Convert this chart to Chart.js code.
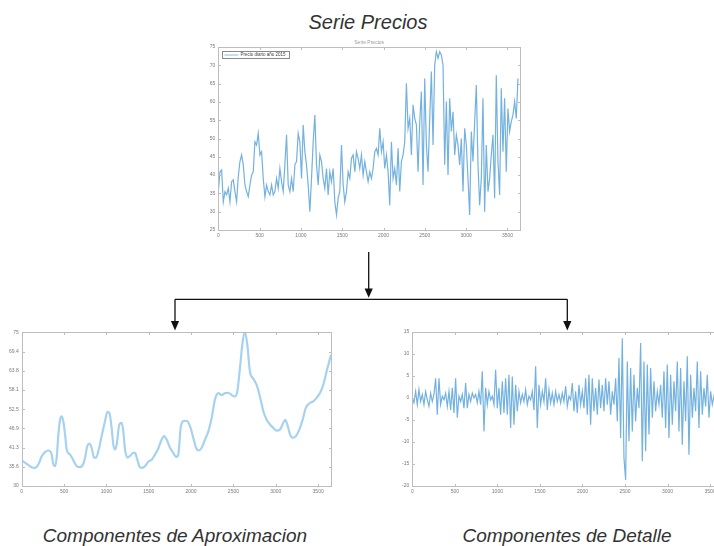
<!DOCTYPE html>
<html><head><meta charset="utf-8">
<script src="https://cdn.jsdelivr.net/npm/chart.js@4"></script>
<style>
html,body{margin:0;padding:0;background:#fff;width:714px;height:546px;overflow:hidden;position:relative;font-family:"Liberation Sans",Arial,sans-serif;}
canvas{position:absolute;}
.txt{position:absolute;font-style:italic;color:#333;white-space:nowrap;transform:translateX(-50%);line-height:1;}
svg{position:absolute;left:0;top:0;pointer-events:none;}
</style></head>
<body>
<div class="txt" style="left:368px;top:12px;font-size:20px;">Serie Precios</div>
<div class="txt" style="left:175px;top:526px;font-size:19px;">Componentes de Aproximacion</div>
<div class="txt" style="left:567px;top:526px;font-size:19px;">Componentes de Detalle</div>
<canvas id="cTop" width="335" height="212" style="left:195px;top:38px;"></canvas>
<canvas id="cApx" width="342" height="182" style="left:0px;top:322px;"></canvas>
<canvas id="cDet" width="345" height="182" style="left:390px;top:322px;"></canvas>
<svg width="714" height="546">
<g stroke="#111" stroke-width="1.3" fill="none">
<line x1="368.7" y1="252" x2="368.7" y2="290"/>
<line x1="175" y1="299.3" x2="567.3" y2="299.3"/>
<line x1="175" y1="299.3" x2="175" y2="322"/>
<line x1="567.3" y1="299.3" x2="567.3" y2="322"/>
</g>
<g fill="#111">
<polygon points="364.6,288.5 372.8,288.5 368.7,297.8"/>
<polygon points="170.9,321 179.1,321 175,330.5"/>
<polygon points="563.2,321 571.4,321 567.3,330.5"/>
</g>
</svg>
<script>
// ---------- data ----------
const X_MAX = 3652;
const xTickValues = [0, 500, 1000, 1500, 2000, 2500, 3000, 3500];

const PRICE_STEP = 20.15; // days between samples
const priceValues = [
35.5, 40.9, 41.4, 32.7, 35.5, 34.6, 36.4, 32.7, 38.2, 38.7,
35.5, 32.7, 39.6, 43.7, 45.5, 42.8, 37.3, 35.5, 34.1, 37.3,
40.0, 40.9, 49.1, 48.2, 51.4, 45.5, 46.4, 39.1, 34.1, 37.3,
35.5, 34.6, 37.3, 34.6, 35.5, 39.1, 36.4, 41.8, 38.2, 35.5,
42.8, 51.0, 37.3, 35.5, 39.1, 35.5, 42.8, 43.7, 51.4, 49.1,
39.1, 53.7, 46.4, 42.8, 37.3, 30.0, 39.1, 49.1, 56.4, 42.8,
37.3, 45.5, 43.7, 39.1, 36.4, 41.8, 34.6, 40.9, 38.2, 41.8,
32.7, 29.1, 33.7, 35.5, 48.2, 37.3, 32.7, 35.5, 40.9, 39.1,
44.6, 45.5, 40.9, 46.4, 44.6, 41.8, 45.5, 40.0, 43.7, 40.9,
38.2,
40.9, 39.1, 41.8, 46.4, 47.3, 45.5, 52.8, 46.4, 49.1, 41.8,
45.5, 40.9, 31.8, 49.1, 39.1, 41.8, 37.3, 47.3, 35.5, 43.7,
45.5, 49.1, 65.1, 52.8, 55.5, 45.5, 59.2, 55.5, 53.7, 40.9,
54.6, 62.8, 37.3, 66.4, 48.2, 40.9, 55.5, 68.3, 48.2, 70.1,
73.7, 71.9, 73.7, 72.8, 70.1, 42.8, 60.1, 40.0, 61.0, 51.9,
57.3, 45.5, 51.0, 48.2, 42.8, 50.0, 35.5, 52.8, 48.2, 39.1,
29.1, 51.9, 43.7, 54.6, 64.6, 42.8, 31.8, 39.1, 61.0, 30.0,
48.2, 35.5, 39.1, 45.5, 51.0, 33.7, 67.3, 43.7, 34.6, 63.7,
46.4, 61.0, 40.9, 58.2, 51.9, 54.6, 56.4, 60.1, 55.5, 66.4
];
const priceYTicks = {min: 25, max: 75, step: 5};
const priceLegend = "Precio diario año 2015";
const priceSmallTitle = "Serie Precios";

const approxDays = [0,59,118,157,197,236,275,315,334,354,374,394,413,433,453,472,492,512,531,571,
610,649,689,728,748,775,799,826,854,877,905,944,984,1011,1035,1062,1082,1102,1121,1153,
1181,1200,1220,1247,1279,1318,1338,1358,1389,1417,1456,1495,1535,1574,1613,1653,1680,1712,1751,1790,
1822,1849,1877,1908,1948,1987,2026,2058,2086,2125,2164,2204,2243,2282,2322,2361,2400,2440,2479,2518,
2546,2577,2609,2636,2664,2695,2735,2774,2813,2853,2892,2931,2971,3010,3049,3089,3112,3136,3168,3199,
3238,3278,3317,3357,3404,3443,3482,3522,3561,3600,3652];
const approxValues = [37.5,36.5,35.5,35.3,36.3,38.7,39.9,40.4,40.2,39.2,36.3,35.8,38.3,45.1,49.4,50.4,48.9,45.1,40.7,39.2,
37.5,35.8,35.5,36.5,38.3,41.7,42.4,41.2,38.3,38.3,40.2,44.6,49.0,51.7,51.4,47.0,42.1,40.7,42.1,48.0,
48.5,46.0,40.7,38.3,38.8,39.7,39.7,38.3,35.8,35.3,35.8,37.1,37.7,39.2,41.0,43.6,44.6,43.6,41.2,39.7,
38.5,39.2,47.0,49.0,49.1,47.5,44.1,41.2,40.4,41.2,43.6,46.0,49.9,55.3,57.2,56.6,57.2,57.3,56.6,56.2,
57.7,64.5,72.3,75.0,71.3,63.5,61.4,59.6,56.2,51.9,49.4,48.0,47.0,46.2,46.5,48.5,49.4,48.0,45.1,44.1,
44.6,46.5,49.4,53.0,54.3,54.8,55.8,57.2,59.6,63.5,68.4];
const approxYTicks = {min: 30, max: 75, step: 5.625};

const DETAIL_STEP = 19.59;
const detailValues = [
0, -1.1, 1.5, -1.5, 1.9, -0.8, 0.8, -1.5, 1.5, -0.4,
-1.9, 1.1, -0.8, 0.8, 4.5, -3.8, 4.5, -1.5, 0.4, -0.4,
1.1, -1.9, 1.5, -2.7, 2.3, -3.4, 4.5, -4.5, 0.4, -0.8,
0.8, -2.3, 3.4, -2.3, 0.8, -0.8, 1.1, 0, 0.8, -1.1,
1.5, -1.5, 6.1, -7.6, 2.3, -1.5, 1.5, -0.4, 0.4, -1.5,
6.4, -2.3, 2.3, -3.8, 3.8, -3.4, 4.5, -3.8, 5.3, -6.8,
4.9, -6.1, 3.0, -3.0, 1.5, -1.1, 0.8, -0.8, 1.9, -1.5,
0.4, -0.4, 1.5, -2.7, 7.2, -6.8, 3.0, -1.5, 1.5, -0.8,
4.5, -2.7, 1.9, -1.1, 1.1, -1.5, 1.5, -0.8, 0.8, -1.1,
1.1, -0.8, 2.7, -1.9, 0.4, -0.4, 3.4, -3.0, 1.5, -3.4,
3.0, -1.5, 1.5, -2.3, 4.5, -3.8, 5.3, -6.1, 4.5, -3.0,
2.3, -3.8, 4.2, -2.3, 3.0, -3.0, 4.5, -1.5, 3.8, -3.8,
1.5, -1.5, 4.5, -5.3, 9.1, -9.1, 13.6, -13.6, -18.6, 8.3,
-9.8, 6.8, -7.6, 5.3, -5.3, 2.3, -2.3, 12.5, -14.4, 8.3,
-12.1, 7.6, -8.3, 6.8, -4.5, 3.8, -3.0, 1.5, -1.5, 3.0,
-4.5, 6.1, -6.8, 7.6, -9.1, 5.3, -6.1, 3.8, -3.0, 8.3,
-7.6, 6.8, -10.6, 3.8, -5.3, 9.5, -12.9, 5.3, -4.5, 2.3,
-3.0, 8.3, -6.8, 6.1, -3.8, 2.3, -1.9, 5.3, -4.5, 1.5,
-1.5, 0.4, -0.8, 0.8, -0.4, 0.4, 0
];
const detailYTicks = {min: -20, max: 15, step: 5};

// ---------- helpers ----------
const TICK_COLOR = '#7a7a7a';
const boxPlugin = {
  id: 'matlabBox',
  afterDatasetsDraw(chart) {
    const {ctx, chartArea: a, scales} = chart;
    ctx.save();
    ctx.strokeStyle = '#bdbdbd';
    ctx.lineWidth = 1;
    const L = Math.round(a.left) + 0.5, T = Math.round(a.top) + 0.5;
    const R = Math.round(a.right) + 0.5, B = Math.round(a.bottom) + 0.5;
    ctx.strokeRect(L, T, R - L, B - T);
    ctx.beginPath();
    const tl = 2.5;
    scales.x.ticks.forEach(t => {
      const p = Math.round(scales.x.getPixelForValue(t.value)) + 0.5;
      ctx.moveTo(p, B); ctx.lineTo(p, B - tl);
      ctx.moveTo(p, T); ctx.lineTo(p, T + tl);
    });
    scales.y.ticks.forEach(t => {
      const p = Math.round(scales.y.getPixelForValue(t.value)) + 0.5;
      ctx.moveTo(L, p); ctx.lineTo(L + tl, p);
      ctx.moveTo(R, p); ctx.lineTo(R - tl, p);
    });
    ctx.stroke();
    ctx.restore();
  }
};

function makeScales(yt, yWidth, xHeight, yFmt) {
  return {
    x: {
      type: 'linear', min: 0, max: X_MAX,
      grid: {display: false, drawTicks: false}, border: {display: false},
      ticks: {stepSize: 500, autoSkip: false, maxRotation: 0, font: {size: 5, family: 'Liberation Sans'}, color: TICK_COLOR, padding: 3,
              callback: v => String(v)},
      afterBuildTicks(s) { s.ticks = xTickValues.map(v => ({value: v})); },
      afterFit(s) { s.height = xHeight; }
    },
    y: {
      type: 'linear', min: yt.min, max: yt.max,
      grid: {display: false, drawTicks: false}, border: {display: false},
      ticks: {stepSize: yt.step, autoSkip: false, font: {size: 5, family: 'Liberation Sans'}, color: TICK_COLOR, padding: 3,
              callback: yFmt || (v => String(v))},
      afterFit(s) { s.width = yWidth; }
    }
  };
}

function baseOptions(scales, padding) {
  return {
    responsive: false, animation: false, devicePixelRatio: 1,
    layout: {padding},
    plugins: {legend: {display: false}, tooltip: {enabled: false}, title: {display: false}},
    elements: {point: {radius: 0}},
    scales
  };
}

// ---------- top chart ----------
const topExtras = {
  id: 'topExtras',
  afterDraw(chart) {
    const {ctx, chartArea: a} = chart;
    ctx.save();
    ctx.fillStyle = '#9a9a9a';
    ctx.font = '5px "Liberation Sans"';
    ctx.textAlign = 'center';
    ctx.textBaseline = 'bottom';
    ctx.fillText(priceSmallTitle, (a.left + a.right) / 2, a.top - 2);
    const lx = Math.round(a.left) + 4.5, ly = Math.round(a.top) + 4.5;
    ctx.fillStyle = '#fff';
    ctx.fillRect(lx, ly, 67, 7);
    ctx.strokeStyle = '#8a8a8a';
    ctx.lineWidth = 1;
    ctx.strokeRect(lx, ly, 67, 7);
    ctx.strokeStyle = '#9cc9ea';
    ctx.lineWidth = 1.2;
    ctx.beginPath();
    ctx.moveTo(lx + 2, ly + 3.5); ctx.lineTo(lx + 16, ly + 3.5);
    ctx.stroke();
    ctx.fillStyle = '#444';
    ctx.textAlign = 'left';
    ctx.textBaseline = 'middle';
    ctx.font = '4.5px "Liberation Sans"';
    ctx.fillText(priceLegend, lx + 18, ly + 3.7);
    ctx.restore();
  }
};

new Chart(document.getElementById('cTop'), {
  type: 'line',
  data: {datasets: [{
    label: priceLegend,
    data: priceValues.map((v, i) => ({x: i * PRICE_STEP, y: v})),
    borderColor: 'rgba(80,158,215,0.8)', borderWidth: 1.2, tension: 0, fill: false
  }]},
  options: baseOptions(makeScales(priceYTicks, 23.3, 20), {top: 9, right: 10, left: 0, bottom: 0}),
  plugins: [boxPlugin, topExtras]
});

// ---------- approximation ----------
new Chart(document.getElementById('cApx'), {
  type: 'line',
  data: {datasets: [{
    label: 'Aproximacion',
    data: approxValues.map((v, i) => ({x: approxDays[i], y: v})),
    borderColor: '#a6d2f0', borderWidth: 2.2, cubicInterpolationMode: 'monotone', fill: false
  }]},
  options: baseOptions(makeScales(approxYTicks, 21.7, 18, v => (Math.round(v * 10) / 10).toString()),
                       {top: 10.3, right: 11, left: 0, bottom: 0}),
  plugins: [boxPlugin]
});

// ---------- detail ----------
new Chart(document.getElementById('cDet'), {
  type: 'line',
  data: {datasets: [{
    label: 'Detalle',
    data: detailValues.map((v, i) => ({x: i * DETAIL_STEP, y: v})),
    borderColor: 'rgba(80,158,215,0.8)', borderWidth: 1.2, tension: 0, fill: false
  }]},
  options: baseOptions(makeScales(detailYTicks, 22.3, 18), {top: 10, right: 12, left: 0, bottom: 0}),
  plugins: [boxPlugin]
});
</script>
</body></html>
